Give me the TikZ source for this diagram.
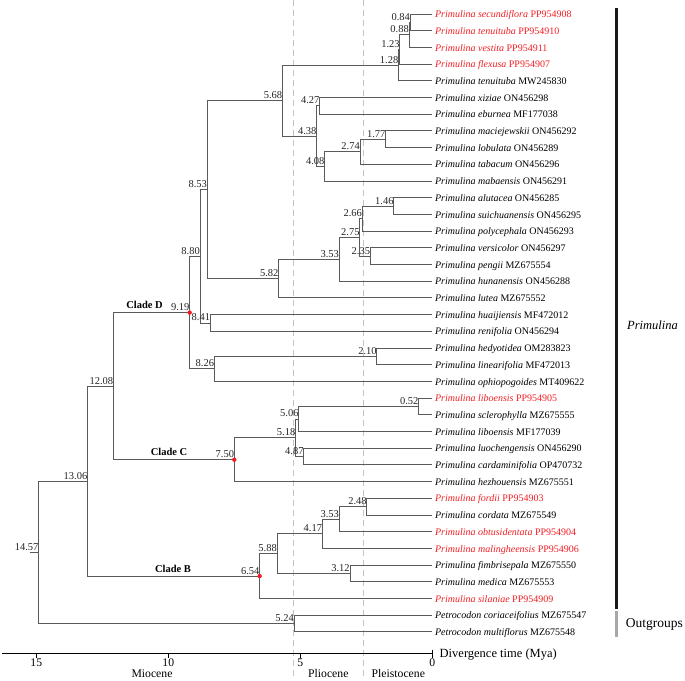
\documentclass[tikz,border=0pt]{standalone}
\usepackage{fontspec}
\setmainfont{Liberation Serif}
\usetikzlibrary{calc}
\definecolor{brc}{HTML}{5A5A5A}
\definecolor{redt}{HTML}{F01E23}
\definecolor{dashc}{HTML}{C4C4C4}
\definecolor{outg}{HTML}{A8A8A8}
\tikzset{
  br/.style={draw=brc, line width=0.85pt},
  tiplab/.style={anchor=base west, inner sep=2.5pt, yshift=-3.6pt, font=\fontsize{10}{12}\selectfont},
  nodelab/.style={anchor=base east, inner sep=0pt, yshift=2pt, font=\fontsize{10.5}{12}\selectfont, text=black!85},
  cladelab/.style={inner sep=0pt, font=\fontsize{10.5}{12}\selectfont\bfseries},
  dashl/.style={draw=dashc, line width=0.8pt, dash pattern=on 6pt off 4pt},
  ticklab/.style={anchor=base, inner sep=0pt, font=\fontsize{11.7}{13}\selectfont},
  rdot/.style={fill=redt},
}
\begin{document}
\begin{tikzpicture}[x=1pt,y=-1pt]
\useasboundingbox (0,0) rectangle (685,680);
% epoch boundaries
\draw[dashl] (293.3,0) -- (293.3,680);
\draw[dashl] (363.3,0) -- (363.3,680);

\begin{scope}[xshift=432.3pt, x=-26.4pt]
% tips
\foreach \i/\g/\a/\c in {
 1/Primulina secundiflora/PP954908/redt,
 2/Primulina tenuituba/PP954910/redt,
 3/Primulina vestita/PP954911/redt,
 4/Primulina flexusa/PP954907/redt,
 5/Primulina tenuituba/MW245830/black,
 6/Primulina xiziae/ON456298/black,
 7/Primulina eburnea/MF177038/black,
 8/Primulina maciejewskii/ON456292/black,
 9/Primulina lobulata/ON456289/black,
 10/Primulina tabacum/ON456296/black,
 11/Primulina mabaensis/ON456291/black,
 12/Primulina alutacea/ON456285/black,
 13/Primulina suichuanensis/ON456295/black,
 14/Primulina polycephala/ON456293/black,
 15/Primulina versicolor/ON456297/black,
 16/Primulina pengii/MZ675554/black,
 17/Primulina hunanensis/ON456288/black,
 18/Primulina lutea/MZ675552/black,
 19/Primulina huaijiensis/MF472012/black,
 20/Primulina renifolia/ON456294/black,
 21/Primulina hedyotidea/OM283823/black,
 22/Primulina linearifolia/MF472013/black,
 23/Primulina ophiopogoides/MT409622/black,
 24/Primulina liboensis/PP954905/redt,
 25/Primulina sclerophylla/MZ675555/black,
 26/Primulina liboensis/MF177039/black,
 27/Primulina luochengensis/ON456290/black,
 28/Primulina cardaminifolia/OP470732/black,
 29/Primulina hezhouensis/MZ675551/black,
 30/Primulina fordii/PP954903/redt,
 31/Primulina cordata/MZ675549/black,
 32/Primulina obtusidentata/PP954904/redt,
 33/Primulina malingheensis/PP954906/redt,
 34/Primulina fimbrisepala/MZ675550/black,
 35/Primulina medica/MZ675553/black,
 36/Primulina silaniae/PP954909/redt,
 37/Petrocodon coriaceifolius/MZ675547/black,
 38/Petrocodon multiflorus/MZ675548/black}{
  \coordinate (t\i) at (0,{14+16.7*(\i-1)});
  \node[tiplab, text=\c] (l\i) at (t\i) {\textit{\g} \a};
}
% internal nodes: name / age / y
\foreach \q/\a/\y in {
 n084/0.84/22.35, n088/0.88/34.88, n123/1.23/49.49, n128/1.28/65.14,
 n427/4.27/105.85, n177/1.77/139.25, n274/2.74/151.78, n408/4.08/166.39,
 n438/4.38/136.12, n568/5.68/100.63, n146/1.46/206.05, n266/2.66/218.58,
 n235/2.35/256.15, n275/2.75/237.36, n353a/3.53/259.28, n582/5.82/278.59,
 n853/8.53/189.61, n841/8.41/322.95, n880/8.80/256.28, n210/2.10/356.35,
 n826/8.26/368.88, n919/9.19/312.58, n052/0.52/406.45, n506/5.06/418.98,
 n487/4.87/456.55, n518/5.18/437.77, n750/7.50/459.68, n1208/12.08/386.13,
 n248/2.48/506.65, n353b/3.53/519.18, n417/4.17/533.79, n312/3.12/573.45,
 n588/5.88/553.62, n654/6.54/576.06, n1306/13.06/481.10, n524/5.24/623.55}{
  \coordinate (\q) at (\a,\y);
}
\coordinate (root) at (14.91,552.33);
\coordinate (stem) at (15.25,552.33);

% branches
\foreach \p/\c in {
 n084/t1, n084/t2, n088/n084, n088/t3, n123/n088, n123/t4, n128/n123, n128/t5,
 n427/t6, n427/t7, n177/t8, n177/t9, n274/n177, n274/t10, n408/n274, n408/t11,
 n438/n427, n438/n408, n568/n128, n568/n438,
 n146/t12, n146/t13, n266/n146, n266/t14, n235/t15, n235/t16, n275/n266, n275/n235,
 n353a/n275, n353a/t17, n582/n353a, n582/t18, n853/n568, n853/n582,
 n841/t19, n841/t20, n880/n853, n880/n841, n210/t21, n210/t22, n826/n210, n826/t23,
 n919/n880, n919/n826,
 n052/t24, n052/t25, n506/n052, n506/t26, n487/t27, n487/t28, n518/n506, n518/n487,
 n750/n518, n750/t29, n1208/n919, n1208/n750,
 n248/t30, n248/t31, n353b/n248, n353b/t32, n417/n353b, n417/t33, n312/t34, n312/t35,
 n588/n417, n588/n312, n654/n588, n654/t36, n1306/n1208, n1306/n654,
 n524/t37, n524/t38, root/n1306, root/n524}{
  \draw[br] (\p) |- (\c);
}
\draw[br] (stem) -- (root);

% node age labels
\foreach \q/\a in {
 n084/0.84, n088/0.88, n123/1.23, n128/1.28, n427/4.27, n177/1.77, n274/2.74,
 n408/4.08, n438/4.38, n568/5.68, n146/1.46, n266/2.66, n235/2.35, n275/2.75,
 n353a/3.53, n582/5.82, n853/8.53, n841/8.41, n880/8.80, n210/2.10, n826/8.26,
 n919/9.19, n052/0.52, n506/5.06, n487/4.87, n518/5.18, n750/7.50, n1208/12.08,
 n248/2.48, n353b/3.53, n417/4.17, n312/3.12, n588/5.88, n654/6.54, n1306/13.06,
 n524/5.24, root/14.57}{
  \node[nodelab] (lab\q) at (\q) {\a};
}
% calibration points
\fill[rdot] (n919) circle[radius=2.2pt];
\fill[rdot] (n750) circle[radius=2.2pt];
\fill[rdot] (n654) circle[radius=2.2pt];
\end{scope}

% clade labels
\node[cladelab] (cD) at (144.5,305) {Clade D};
\node[cladelab] (cC) at (169,451.7) {Clade C};
\node[cladelab] (cB) at (173,568.7) {Clade B};

% group bars
\draw[line width=3pt, draw=black!90] (616.3,8.3) -- (616.3,609.2) coordinate (barend);
\draw[line width=3pt, draw=outg] (616.3,610.7) -- (616.3,636.7);
\node[font=\fontsize{12.5}{15}\selectfont\itshape, anchor=west, inner sep=0pt] (gP) at (627,325) {Primulina};
\node[font=\fontsize{13.5}{15}\selectfont, anchor=west, inner sep=0pt] (gO) at (625.7,624) {Outgroups};

% time axis
\draw[line width=1.5pt] (2,653.3) coordinate (ax0) -- (432.3,653.3) coordinate (ax1);
\foreach \xx/\lab in {36.3/15, 168.3/10, 300.3/5}{
  \draw[line width=1.2pt] (\xx,653.3) -- (\xx,657.5);
  \node[ticklab] (tk\lab) at (\xx,666.5) {\lab};
}
\draw[line width=1.2pt] (432.3,649.5) -- (432.3,657.5);
\node[ticklab] (tk0) at (432.3,666.5) {0};
\node[font=\fontsize{12.5}{14}\selectfont, anchor=base west, inner sep=0pt] (axt) at (439.5,657.3) {Divergence time (Mya)};
\node[ticklab] (eM) at (152,677) {Miocene};
\node[ticklab] (eP) at (328.3,677) {Pliocene};
\node[ticklab] (eQ) at (398.3,677) {Pleistocene};
\end{tikzpicture}
\end{document}
